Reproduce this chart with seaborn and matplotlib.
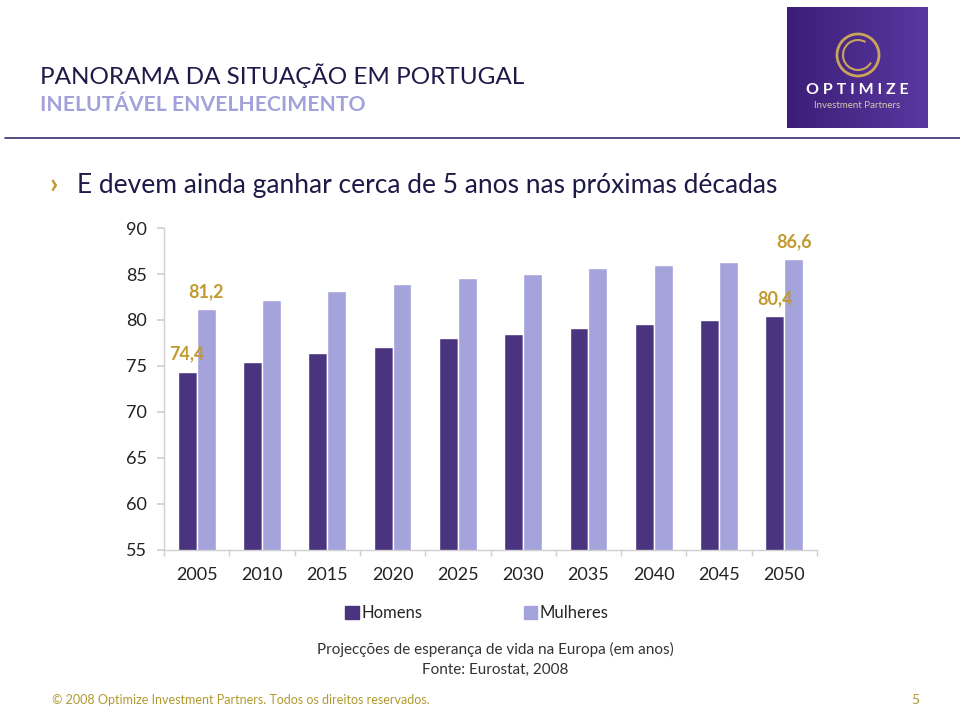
import numpy as np
import pandas as pd
import matplotlib
matplotlib.use("Agg")
import matplotlib.pyplot as plt
from matplotlib.lines import Line2D
from matplotlib.patches import Circle, Arc
import seaborn as sns

# data
anos = ["2005", "2010", "2015", "2020", "2025", "2030", "2035", "2040", "2045", "2050"]
homens = [74.4, 75.4, 76.4, 77.1, 78.0, 78.5, 79.1, 79.6, 80.0, 80.4]
mulheres = [81.2, 82.2, 83.1, 83.9, 84.6, 85.0, 85.6, 86.0, 86.3, 86.6]
series = ["Homens", "Mulheres"]
yticks = [55, 60, 65, 70, 75, 80, 85, 90]

df = pd.DataFrame({
    "ano": anos * 2,
    "valor": homens + mulheres,
    "sexo": [series[0]] * len(anos) + [series[1]] * len(anos),
})

sns.set_theme(style="white")
plt.rcParams["font.family"] = ["Lato", "DejaVu Sans"]

c_h = "#4A3480"
c_m = "#A5A3DC"
gold = "#C29A30"
navy = "#1E1A48"

fig = plt.figure(figsize=(9.6, 7.16), dpi=100)
ax = fig.add_axes([164 / 960, 1 - 550 / 716, 653 / 960, 322 / 716])

sns.barplot(data=df, x="ano", y="valor", hue="sexo", palette=[c_h, c_m],
            width=0.58, gap=0, saturation=1, ax=ax, legend=False)
ax.set_ylim(55, 90)
ax.set_xlim(-0.5, len(anos) - 0.5)
ax.set_yticks(yticks)
ax.set_xlabel("")
ax.set_ylabel("")
ax.tick_params(axis="y", labelsize=13, labelcolor="#222222", length=5, color="#D0D0D0", pad=7, left=True)
ax.tick_params(axis="x", labelsize=13, labelcolor="#222222", length=0, pad=12)
ax.set_xticks(np.arange(-0.5, len(anos), 1), minor=True)
ax.tick_params(axis="x", which="minor", length=4, color="#D0D0D0", bottom=True)
for s in ["top", "right"]:
    ax.spines[s].set_visible(False)
for s in ["left", "bottom"]:
    ax.spines[s].set_color("#D0D0D0")
    ax.spines[s].set_linewidth(1)

# data labels on first and last groups
bars_h = ax.containers[0]
bars_m = ax.containers[1]
for cont, vals in [(bars_h, homens), (bars_m, mulheres)]:
    for i in [0, len(anos) - 1]:
        b = cont[i]
        ax.annotate(f"{vals[i]:.1f}".replace(".", ","),
                    (b.get_x() + b.get_width() / 2, b.get_height()),
                    xytext=(0, 12.5), textcoords="offset points", ha="center", va="center",
                    fontsize=13, fontweight="bold", color=gold)

# legend
ax.legend(handles=[plt.Rectangle((0, 0), 1, 1, color=c_h), plt.Rectangle((0, 0), 1, 1, color=c_m)],
          labels=series, loc="center", bbox_to_anchor=(477 / 960, 1 - 613 / 716),
          bbox_transform=fig.transFigure, ncol=2, frameon=False, fontsize=12,
          handlelength=0.8, handleheight=0.8, handletextpad=0.15, columnspacing=6.1)

# titles
fig.text(40 / 960, 1 - 76 / 716, "PANORAMA DA SITUAÇÃO EM PORTUGAL", fontsize=17.5, color=navy,
         va="center", ha="left")
fig.text(40 / 960, 1 - 105 / 716, "INELUTÁVEL ENVELHECIMENTO", fontsize=15.2, color="#A3A1DA",
         fontweight="bold", va="center", ha="left")
fig.add_artist(Line2D([5 / 960, 1], [1 - 138 / 716] * 2, color="#3D2B6E", lw=1.2))
fig.text(49 / 960, 1 - 185 / 716, "›", fontsize=21, color=gold, fontweight="bold",
         va="center", ha="left")
fig.text(77 / 960, 1 - 186 / 716, "E devem ainda ganhar cerca de 5 anos nas próximas décadas",
         fontsize=19, color=navy, va="center", ha="left")

# caption
fig.text(495 / 960, 1 - 649 / 716, "Projecções de esperança de vida na Europa (em anos)",
         fontsize=11, color="#333333", ha="center", va="center")
fig.text(495 / 960, 1 - 670 / 716, "Fonte: Eurostat, 2008",
         fontsize=11, color="#333333", ha="center", va="center")

# footer
fig.text(52 / 960, 1 - 700 / 716, "© 2008 Optimize Investment Partners. Todos os direitos reservados.",
         fontsize=9, color="#B09A30", ha="left", va="center")
fig.text(915 / 960, 1 - 700 / 716, "5", fontsize=10, color="#B09A30", ha="center", va="center")

# logo
lax = fig.add_axes([787 / 960, 1 - 128 / 716, 141 / 960, 121 / 716])
grad = np.linspace(0, 1, 100).reshape(1, -1)
lax.imshow(grad, extent=[0, 141, 0, 121], aspect="auto",
           cmap=matplotlib.colors.LinearSegmentedColormap.from_list("p", ["#3C1E78", "#5A38A0"]))
lax.add_patch(Circle((71, 73), 21, fill=False, ec="#C9A45A", lw=2))
lax.add_patch(Arc((71, 73), 30, 30, theta1=60, theta2=330, ec="#C9A45A", lw=1.5))
lax.text(70.5, 38, "O P T I M I Z E", color="white", fontsize=11.5, fontweight="bold",
         ha="center", va="center")
lax.text(70.5, 23, "Investment Partners", color="#D8C7A8", fontsize=7, ha="center", va="center")
lax.set_xlim(0, 141)
lax.set_ylim(0, 121)
lax.axis("off")

fig.savefig("out.png", dpi=100)
